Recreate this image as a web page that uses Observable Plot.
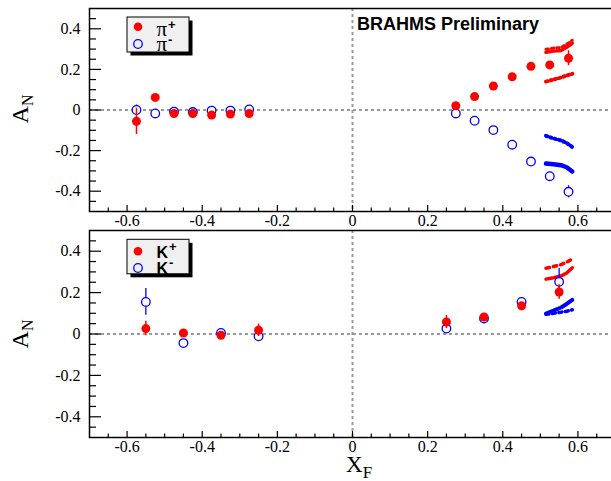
<!DOCTYPE html>
<html><head><meta charset="utf-8">
<script src="https://cdn.jsdelivr.net/npm/d3@7"></script>
<script src="https://cdn.jsdelivr.net/npm/@observablehq/plot@0.6"></script>
<style>
html,body{margin:0;padding:0;background:#fff;overflow:hidden}
#chart svg{display:block}
</style></head><body><div id="chart"></div>
<script>
// ---------- data ----------
// pions (top panel)
const piX        = [-0.575,-0.525,-0.475,-0.425,-0.375,-0.325,-0.275, 0.275, 0.325, 0.375, 0.425, 0.475, 0.525, 0.575];
const piPlusA    = [-0.056, 0.062,-0.017,-0.017,-0.025,-0.020,-0.017, 0.021, 0.066, 0.118, 0.164, 0.215, 0.222, 0.255];
const piPlusErr  = [ 0.065, 0.012, 0.012, 0.012, 0.012, 0.012, 0.012, 0.012, 0.012, 0.012, 0.013, 0.014, 0.016, 0.037];
const piMinusA   = [ 0.000,-0.017,-0.008,-0.010,-0.003,-0.003, 0.003,-0.017,-0.053,-0.099,-0.171,-0.254,-0.326,-0.403];
const piMinusErr = [ 0.025, 0.012, 0.012, 0.012, 0.012, 0.012, 0.012, 0.012, 0.012, 0.013, 0.014, 0.016, 0.018, 0.030];
// kaons (bottom panel)
const kX        = [-0.55,-0.45,-0.35,-0.25, 0.25, 0.35, 0.45, 0.55];
const kPlusA    = [0.026, 0.005,-0.006, 0.018, 0.058, 0.082, 0.136, 0.203];
const kPlusErr  = [0.035, 0.015, 0.015, 0.030, 0.032, 0.015, 0.015, 0.035];
const kMinusA   = [0.155,-0.044, 0.005,-0.011, 0.026, 0.075, 0.155, 0.252];
const kMinusErr = [0.065, 0.015, 0.015, 0.020, 0.022, 0.015, 0.020, 0.065];
// model curves
const curveX         = [0.515, 0.535, 0.555, 0.570, 0.585];
const piPlusSolid    = [0.284, 0.290, 0.293, 0.309, 0.329];
const piPlusDashed   = [0.140, 0.150, 0.160, 0.170, 0.178];
const piMinusDashed  = [-0.127,-0.140,-0.150,-0.163,-0.182];
const piMinusSolid   = [-0.264,-0.267,-0.272,-0.282,-0.303];
const kPlusDotted    = [0.318, 0.326, 0.335, 0.347, 0.362];
const kPlusSolid     = [0.265, 0.272, 0.280, 0.295, 0.320];
const kMinusSolid    = [0.099, 0.113, 0.128, 0.145, 0.165];
const kMinusDotted   = [0.095, 0.100, 0.105, 0.110, 0.117];
// axes
const xMajor = [-0.6,-0.4,-0.2,0,0.2,0.4,0.6];
const xMinor = [-0.65,-0.55,-0.5,-0.45,-0.35,-0.3,-0.25,-0.15,-0.1,-0.05,0.05,0.1,0.15,0.25,0.3,0.35,0.45,0.5,0.55,0.65];
const yMajor = [-0.4,-0.2,0,0.2,0.4];
const yMinor = [-0.45,-0.35,-0.3,-0.25,-0.15,-0.1,-0.05,0.05,0.1,0.15,0.25,0.3,0.35,0.45];
const xDomain = [-0.7, 0.7];
const yDomain = [-0.5, 0.5];
const RED = "#ff0000", BLUE = "#0000ff";
const SERIF = "'Liberation Serif', 'Times New Roman', serif";
const SANS = "'Liberation Sans', Arial, sans-serif";
const TOP_H = 229;   // height of the upper svg; the lower svg starts here

const pts = (xs, ys, es) => xs.map((x, i) => ({x, y: ys[i], e: es ? es[i] : 0}));
const crv = (ys) => curveX.map((x, i) => ({x, y: ys[i]}));

function axes() {
  return [
    Plot.axisX(xMajor, {anchor: "bottom", tickSize: -6, tickPadding: 9, tickFormat: d => String(d), label: null, strokeWidth: 1.2, fontFamily: SERIF, fontSize: 16}),
    Plot.axisX(xMinor, {anchor: "bottom", tickSize: -3.5, tickFormat: () => "", label: null, strokeWidth: 1.2}),
    Plot.axisY(yMajor, {anchor: "left", tickSize: -12, tickPadding: 21, tickFormat: d => String(d), label: null, strokeWidth: 1.2, fontFamily: SERIF, fontSize: 16}),
    Plot.axisY(yMinor, {anchor: "left", tickSize: -7, tickFormat: () => "", label: null, strokeWidth: 1.2}),
  ];
}
function zeroLines() {
  return [
    Plot.ruleY([0], {stroke: "#999", strokeWidth: 2, strokeDasharray: "3,3"}),
    Plot.ruleX([0], {stroke: "#999", strokeWidth: 2, strokeDasharray: "3,3"}),
  ];
}
function points(plus, minus) {
  return [
    Plot.ruleX(minus, {x: "x", y1: d => d.y - d.e, y2: d => d.y + d.e, stroke: BLUE, strokeWidth: 1.3}),
    Plot.dot(minus, {x: "x", y: "y", r: 4.3, stroke: BLUE, fill: "white", strokeWidth: 1.3}),
    Plot.ruleX(plus, {x: "x", y1: d => d.y - d.e, y2: d => d.y + d.e, stroke: RED, strokeWidth: 1.5}),
    Plot.dot(plus, {x: "x", y: "y", r: 4.5, fill: RED}),
  ];
}

const topPlot = Plot.plot({
  width: 611, height: TOP_H, marginTop: 8, marginBottom: 18, marginLeft: 89, marginRight: -4,
  x: {domain: xDomain}, y: {domain: yDomain},
  style: {fontFamily: SERIF, fontSize: "16px", background: "white", overflow: "hidden"},
  marks: [
    ...zeroLines(),
    Plot.line(crv(piPlusSolid), {x: "x", y: "y", stroke: RED, strokeWidth: 3.5}),
    Plot.line(crv(piPlusSolid), {x: "x", y: "y", stroke: RED, strokeWidth: 3, strokeDasharray: "2.5,3", dy: -3}),
    Plot.line(crv(piPlusDashed), {x: "x", y: "y", stroke: RED, strokeWidth: 4, strokeDasharray: "1.5,3"}),
    Plot.line(crv(piMinusDashed), {x: "x", y: "y", stroke: BLUE, strokeWidth: 4, strokeDasharray: "1.5,3"}),
    Plot.line(crv(piMinusSolid), {x: "x", y: "y", stroke: BLUE, strokeWidth: 4.5}),
    ...points(pts(piX, piPlusA, piPlusErr), pts(piX, piMinusA, piMinusErr)),
    ...axes(),
    Plot.frame({stroke: "black", strokeWidth: 1.5})
  ]
});

const botPlot = Plot.plot({
  width: 611, height: 481 - TOP_H, marginTop: 1, marginBottom: 44, marginLeft: 89, marginRight: -4,
  x: {domain: xDomain}, y: {domain: yDomain},
  style: {fontFamily: SERIF, fontSize: "16px", background: "white", overflow: "hidden"},
  marks: [
    ...zeroLines(),
    Plot.line(crv(kPlusDotted), {x: "x", y: "y", stroke: RED, strokeWidth: 3.5, strokeDasharray: "3.5,4"}),
    Plot.line(crv(kPlusSolid), {x: "x", y: "y", stroke: RED, strokeWidth: 3.5}),
    Plot.line(crv(kMinusDotted), {x: "x", y: "y", stroke: BLUE, strokeWidth: 3.5, strokeDasharray: "3,3.5"}),
    Plot.line(crv(kMinusSolid), {x: "x", y: "y", stroke: BLUE, strokeWidth: 4}),
    ...points(pts(kX, kPlusA, kPlusErr), pts(kX, kMinusA, kMinusErr)),
    ...axes(),
    Plot.frame({stroke: "black", strokeWidth: 1.5})
  ]
});

// tick labels: Times-like serif
for (const svg of [topPlot, botPlot]) {
  d3.select(svg).selectAll("text")
    .attr("font-family", SERIF).attr("font-size", 16)
    .style("font-family", SERIF).style("font-size", "16px");
}

const root = document.getElementById("chart");
root.append(topPlot, botPlot);

// ---------- annotations ----------
function yLabel(svg, cy) {
  const t = d3.select(svg).append("text")
    .attr("transform", `translate(28,${cy}) rotate(-90)`)
    .attr("text-anchor", "middle").attr("font-family", SERIF).attr("font-size", 24).attr("fill", "black");
  t.append("tspan").text("A");
  t.append("tspan").attr("font-size", 16).attr("dy", 5).text("N");
}
yLabel(topPlot, 109);
yLabel(botPlot, 334 - TOP_H);

function legend(svg, x, y, w, h, rows) {
  const g = d3.select(svg).append("g");
  g.append("rect").attr("x", x + 3.5).attr("y", y + 3.5).attr("width", w).attr("height", h).attr("fill", "black");
  g.append("rect").attr("x", x).attr("y", y).attr("width", w).attr("height", h).attr("fill", "#f0f0f0").attr("stroke", "black").attr("stroke-width", 1);
  rows.forEach(r => {
    const c = g.append("circle").attr("cx", x + 11).attr("cy", r.cy).attr("r", 4.3);
    if (r.filled) c.attr("fill", RED); else c.attr("fill", "none").attr("stroke", BLUE).attr("stroke-width", 1.3);
    const t = g.append("text").attr("x", x + 29.5).attr("y", r.base).attr("text-anchor", "start")
      .attr("font-family", r.font).attr("font-size", r.size).attr("font-weight", r.weight).attr("fill", "black");
    t.append("tspan").text(r.main);
    t.append("tspan").attr("font-size", 13).attr("font-family", SANS).attr("font-weight", "bold").attr("dx", 1).attr("dy", -7).text(r.sup);
  });
}
legend(topPlot, 127, 17, 62, 35, [
  {cy: 26.7, base: 35.5, main: "π", sup: "+", filled: true, font: SERIF, size: 21, weight: "normal"},
  {cy: 44, base: 51, main: "π", sup: "-", filled: false, font: SERIF, size: 21, weight: "normal"}
]);
legend(botPlot, 127, 239.3 - TOP_H, 62, 34.5, [
  {cy: 251.3 - TOP_H, base: 257.5 - TOP_H, main: "K", sup: "+", filled: true, font: SANS, size: 16, weight: "bold"},
  {cy: 268 - TOP_H, base: 274 - TOP_H, main: "K", sup: "-", filled: false, font: SANS, size: 16, weight: "bold"}
]);

d3.select(topPlot).append("text").attr("x", 357).attr("y", 30).attr("text-anchor", "start")
  .attr("font-family", SANS).attr("font-weight", "bold").attr("font-size", 18).attr("fill", "black")
  .text("BRAHMS Preliminary");

const xl = d3.select(botPlot).append("text").attr("x", 346).attr("y", 472 - TOP_H).attr("text-anchor", "start")
  .attr("font-family", SERIF).attr("font-size", 23).attr("fill", "black");
xl.append("tspan").text("X");
xl.append("tspan").attr("font-size", 17).attr("dy", 6).text("F");
</script>
</body></html>
